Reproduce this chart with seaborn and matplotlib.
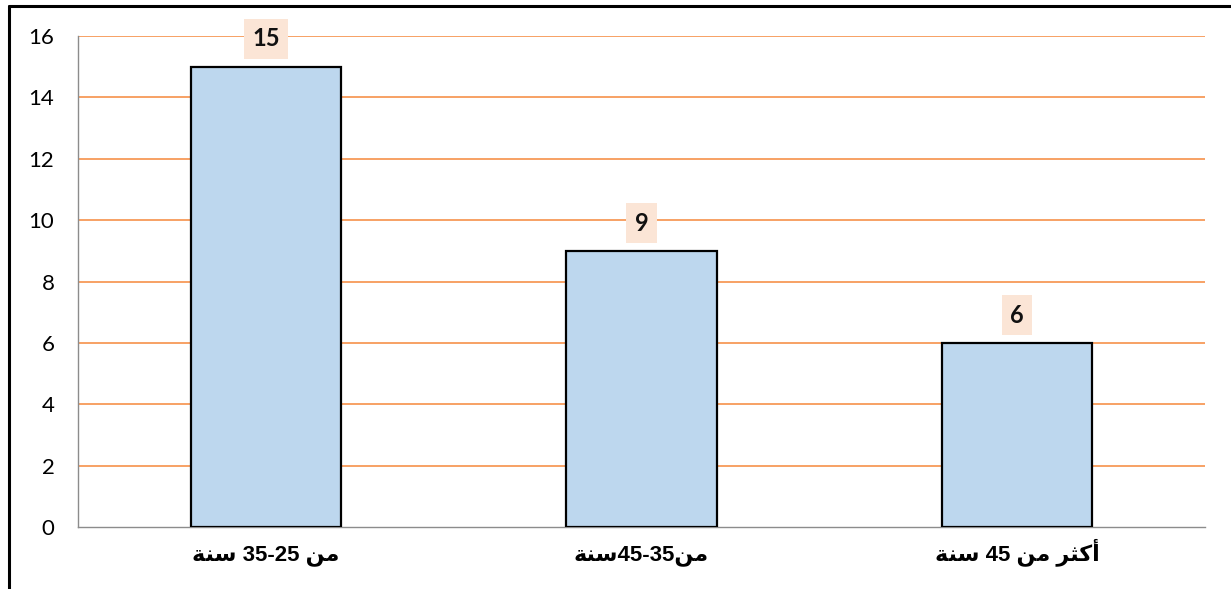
import matplotlib
matplotlib.use("Agg")
import matplotlib.pyplot as plt
from matplotlib.lines import Line2D
import seaborn as sns

# ── Data ──────────────────────────────────────────────────────────────────────
# Arabic labels written in visual order with presentation forms (no shaping in mpl)
categories = [
    "\uFE94\uFEE8\uFEB3 35-25 \uFEE6\uFEE3",                  # من 25-35 سنة
    "\uFE94\uFEE8\uFEB345-35\uFEE6\uFEE3",                    # من35-45سنة
    "\uFE94\uFEE8\uFEB3 45 \uFEE6\uFEE3 \uFEAE\uFE9C\uFEDB\uFE83",  # أكثر من 45 سنة
]
values = [15, 9, 6]
y_ticks = [0, 2, 4, 6, 8, 10, 12, 14, 16]

BAR = "#BDD7EE"
GRID = "#F5883A"
LABEL_BG = "#FBE5D6"
GREY = "#8C8C8C"

sns.set_style("white")
plt.rcParams["font.family"] = ["Lato", "DejaVu Sans"]

W, H = 1231, 589
fig = plt.figure(figsize=(W / 100, H / 100), dpi=100)
ax = fig.add_axes([78 / W, (H - 527) / H, (1205 - 78) / W, (527 - 36) / H])

sns.barplot(x=categories, y=values, order=categories, color=BAR,
            edgecolor="black", linewidth=1.6, width=0.4, saturation=1, ax=ax)
for p in ax.patches:
    p.set_zorder(3)

ax.set_ylim(0, 16)
ax.set_xlim(-0.5, 2.5)
ax.set_yticks(y_ticks)
ax.set_yticklabels([str(t) for t in y_ticks], fontsize=16, color="black")
ax.yaxis.grid(True, color=GRID, linewidth=1.1)
ax.set_axisbelow(True)
ax.get_ygridlines()[0].set_visible(False)

# category separators as outward ticks on x-axis
ax.set_xticks([-0.5, 0.5, 1.5, 2.5], minor=True)
ax.set_xticks(range(len(categories)))
ax.set_xticklabels(categories, fontsize=16, fontweight="bold", color="black",
                   family=["Liberation Sans", "DejaVu Sans"])
for lbl in ax.get_xticklabels():
    lbl.set_va("baseline")
ax.tick_params(axis="x", which="major", length=0, pad=24)
ax.tick_params(axis="x", which="minor", length=7, color=GREY, direction="out")
ax.tick_params(axis="y", length=7, color=GREY, direction="out", pad=10)

for side in ["top", "right"]:
    ax.spines[side].set_visible(False)
for side in ["left", "bottom"]:
    ax.spines[side].set_color(GREY)
    ax.spines[side].set_linewidth(1.0)

# value labels
for i, v in enumerate(values):
    ax.annotate(str(v), xy=(i, v), xytext=(0, 20), textcoords="offset points",
                ha="center", va="center", fontsize=17, fontweight="bold",
                color="#111111",
                bbox=dict(boxstyle="square,pad=0.35", fc=LABEL_BG, ec="none"))

# outer chart frame (left and top edges visible)
fig.add_artist(Line2D([9 / W, 9 / W], [0, 1 - 6 / H], color="black",
                      linewidth=2.2, transform=fig.transFigure))
fig.add_artist(Line2D([9 / W, 1], [1 - 6 / H, 1 - 6 / H], color="black",
                      linewidth=2.2, transform=fig.transFigure))

fig.savefig("out.png", dpi=100)
